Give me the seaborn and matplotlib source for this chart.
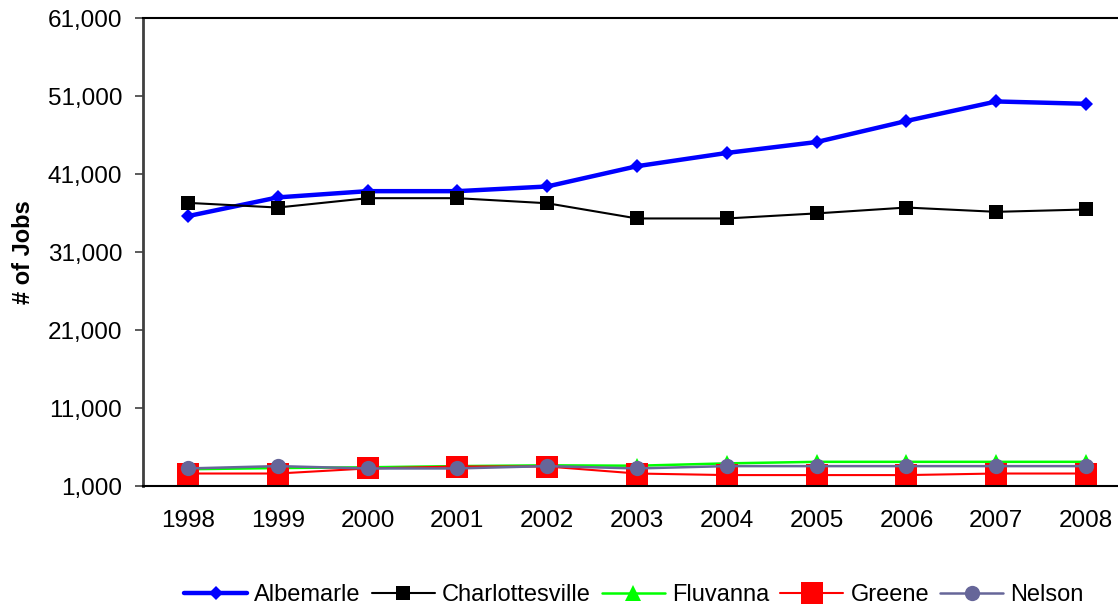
import matplotlib
matplotlib.use("Agg")
import matplotlib.pyplot as plt
import seaborn as sns
import pandas as pd
from matplotlib.ticker import FuncFormatter

years = ["1998", "1999", "2000", "2001", "2002", "2003", "2004", "2005", "2006", "2007", "2008"]
albemarle = [35600, 38000, 38800, 38800, 39400, 42000, 43700, 45100, 47800, 50300, 50000]
charlottesville = [37300, 36700, 37900, 37900, 37250, 35300, 35300, 35950, 36700, 36150, 36450]
fluvanna = [3150, 3300, 3400, 3550, 3650, 3600, 3900, 4100, 4100, 4100, 4100]
greene = [2600, 2600, 3250, 3500, 3500, 2600, 2400, 2400, 2400, 2600, 2600]
nelson = [3250, 3550, 3250, 3250, 3550, 3250, 3550, 3550, 3550, 3550, 3550]
series_names = ["Albemarle", "Charlottesville", "Fluvanna", "Greene", "Nelson"]
y_ticks = [1000, 11000, 21000, 31000, 41000, 51000, 61000]

series_values = [albemarle, charlottesville, fluvanna, greene, nelson]
styles = {
    "Albemarle": dict(color="#0000FF", marker="D", markersize=7.2, linewidth=3.2),
    "Charlottesville": dict(color="#000000", marker="s", markersize=10.5, linewidth=1.5),
    "Fluvanna": dict(color="#00FF00", marker="^", markersize=11, linewidth=1.8),
    "Greene": dict(color="#FF0000", marker="s", markersize=16, linewidth=1.5),
    "Nelson": dict(color="#666699", marker="o", markersize=11, linewidth=1.8),
}

rows = []
for name, vals in zip(series_names, series_values):
    for i, v in enumerate(vals):
        rows.append({"pos": i, "year": years[i], "series": name, "jobs": v})
df = pd.DataFrame(rows)

sns.set_style("white")
plt.rcParams["font.family"] = ["Liberation Sans", "DejaVu Sans"]
plt.rcParams["text.color"] = "black"
plt.rcParams["axes.labelcolor"] = "black"
plt.rcParams["xtick.color"] = "black"
plt.rcParams["ytick.color"] = "black"

W, H = 1118, 606
fig = plt.figure(figsize=(W / 100, H / 100), dpi=100)
left, right, top, bottom = 143, 1131, 18, 486
ax = fig.add_axes([left / W, (H - bottom) / H, (right - left) / W, (bottom - top) / H])

for name in series_names:
    st = styles[name]
    sub = df[df["series"] == name]
    sns.lineplot(data=sub, x="pos", y="jobs", ax=ax, color=st["color"],
                 marker=st["marker"], markersize=st["markersize"],
                 linewidth=st["linewidth"], markeredgewidth=0,
                 markeredgecolor=st["color"], label=name, legend=False)

ax.set_xlim(-0.5, 10.5)
ax.set_ylim(1000, 61000)
ax.set_yticks(y_ticks)
ax.yaxis.set_major_formatter(FuncFormatter(lambda v, p: f"{int(v):,}"))
ax.set_xticks(range(len(years)))
ax.set_xticklabels(years)
ax.set_xlabel("")
ax.set_ylabel("# of Jobs", fontsize=17, fontweight="bold", labelpad=9)
ax.tick_params(axis="y", which="both", left=True, length=6, width=1.2,
               color="#404040", labelcolor="black", labelsize=17.5, pad=9)
ax.tick_params(axis="x", bottom=False, labelsize=17.5, labelcolor="black", pad=14)
ax.grid(False)

ax.spines["left"].set_color("#404040")
ax.spines["left"].set_linewidth(2)
for s in ["bottom", "top"]:
    ax.spines[s].set_color("#000000")
    ax.spines[s].set_linewidth(1.5)
ax.spines["right"].set_visible(False)

handles = ax.get_lines()
fig.legend(handles, series_names, loc="center", bbox_to_anchor=(0.567, 0.018),
           ncol=5, frameon=False, fontsize=17, handlelength=2.67,
           handletextpad=0.3, columnspacing=0.47, borderaxespad=0)

fig.savefig("out.png", dpi=100)
